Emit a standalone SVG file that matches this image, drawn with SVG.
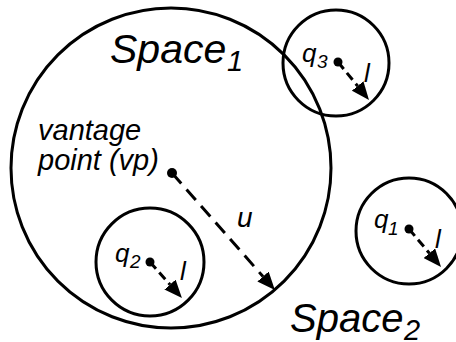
<svg xmlns="http://www.w3.org/2000/svg" width="456" height="342" viewBox="0 0 456 342">
<style>
.c{fill:none;stroke:#000;stroke-width:3}
.t{font-family:"Liberation Sans",Arial,sans-serif;font-style:italic;fill:#000}
.a{fill:none;stroke:#000;stroke-width:3}
.s{stroke-dasharray:9 5}
.b{stroke-dasharray:14 8}
.d{fill:#000}
</style>
<defs>
<marker id="ah" markerUnits="userSpaceOnUse" markerWidth="18" markerHeight="15" viewBox="0 0 18 15" refX="0" refY="7.5" orient="auto">
<path d="M0,0 L18,7.5 L0,15 z" fill="#000"/>
</marker>
</defs>
<rect width="456" height="342" fill="#fff"/>
<g id="space1">
<circle class="c" cx="171" cy="168" r="160"/>
<text class="t" x="110" y="63" font-size="41">Space<tspan x="227" y="71" font-size="29">1</tspan></text>
</g>
<g id="vp">
<circle class="d" cx="172" cy="173" r="5"/>
<text class="t" x="38" y="140" font-size="29">vantage</text>
<text class="t" x="38" y="170" font-size="29">point (vp)</text>
</g>
<g id="q3">
<circle class="c" cx="336" cy="63" r="53"/>
<circle class="d" cx="338" cy="62" r="4.5"/>
<text class="t" x="302" y="62" font-size="26">q<tspan x="317" y="68" font-size="19">3</tspan></text>
<text class="t" x="364" y="82" font-size="26">l</text>
</g>
<g id="q2">
<circle class="c" cx="150" cy="262" r="54"/>
<circle class="d" cx="150" cy="262" r="4.5"/>
<text class="t" x="115" y="262" font-size="26">q<tspan x="130" y="268" font-size="19">2</tspan></text>
<text class="t" x="180" y="280" font-size="26">l</text>
</g>
<g id="q1">
<circle class="c" cx="409" cy="231" r="53"/>
<circle class="d" cx="409" cy="229" r="4.5"/>
<text class="t" x="374" y="228" font-size="26">q<tspan x="388" y="235" font-size="19">1</tspan></text>
<text class="t" x="435" y="248" font-size="26">l</text>
</g>
<g id="space2">
<text class="t" x="290" y="332" font-size="40">Space<tspan x="404" y="340" font-size="29">2</tspan></text>
</g>
<g id="connectors">
<line class="a b" x1="172" y1="173" x2="263" y2="276.5" marker-end="url(#ah)"/>
<text class="t" x="237" y="227" font-size="28">u</text>
<line class="a s" x1="338" y1="62" x2="357.6" y2="86" marker-end="url(#ah)"/>
<line class="a s" x1="150" y1="262" x2="170" y2="284.6" marker-end="url(#ah)"/>
<line class="a s" x1="409" y1="229" x2="429.4" y2="253.2" marker-end="url(#ah)"/>
</g>
</svg>
